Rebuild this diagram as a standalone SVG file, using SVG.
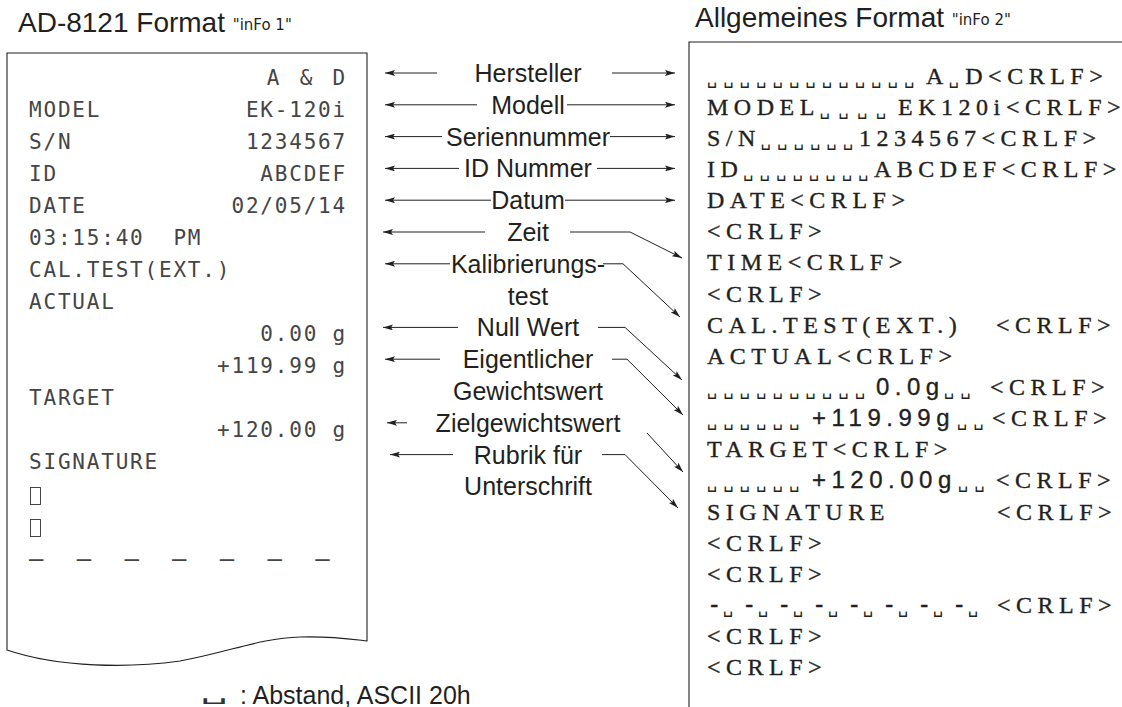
<svg xmlns="http://www.w3.org/2000/svg" width="1122" height="707" viewBox="0 0 1122 707">
<defs>
<style>
.ttl{font-family:"Liberation Sans",Arial,sans-serif;font-size:28px;fill:#231f20}
.seg{font-family:"DejaVu Sans",sans-serif;font-size:15px;fill:#231f20}
.lbl{font-family:"Liberation Sans",Arial,sans-serif;font-size:25px;fill:#231f20;text-anchor:middle}
.dm{font-family:"DejaVu Sans Mono",monospace;font-size:21px;letter-spacing:1.8px;fill:#454545;white-space:pre}
.dme{text-anchor:end}
.r{font-family:"Liberation Serif","Times New Roman",serif;font-size:24px;letter-spacing:5.5px;fill:#231f20;stroke:#231f20;stroke-width:0.35px}
.sans{font-family:"Liberation Sans",Arial,sans-serif}
.sp{font-family:"DejaVu Sans Mono",monospace;font-size:17px;letter-spacing:6.2px;stroke-width:0}
.dh{font-family:"DejaVu Sans Mono",monospace;font-size:24px;letter-spacing:0}
.leg{font-family:"Liberation Sans",Arial,sans-serif;font-size:25px;fill:#231f20}
.legm{font-family:"DejaVu Sans",sans-serif;font-size:18px;fill:#333}
.ln{fill:none;stroke:#231f20;stroke-width:1.1}
.cn{fill:none;stroke:#231f20;stroke-width:1;marker-end:url(#ah)}
</style>
<marker id="ah" viewBox="0 0 10 6" refX="10" refY="3" markerWidth="10" markerHeight="6" markerUnits="userSpaceOnUse" orient="auto">
<path d="M0,0 L10,3 L0,6 L2,3 z" fill="#231f20"/>
</marker>
</defs>

<g id="title-left">
<text class="ttl" x="18" y="32">AD-8121 Format <tspan class="seg" dy="-2">"inFo 1"</tspan></text>
</g>
<g id="title-right">
<text class="ttl" x="695" y="27">Allgemeines Format <tspan class="seg" dy="-2">"inFo 2"</tspan></text>
</g>

<g id="printout-left">
<path class="ln" d="M7,53 H367 V641 C350,639 330,636 300,637 C260,638 230,652 180,661 C130,668 60,668 7,650 Z"/>
<text class="dm dme" x="347" y="85" style="word-spacing:4px">A &amp; D</text>
<text class="dm" x="29" y="117">MODEL</text><text class="dm dme" x="347" y="117">EK-120i</text>
<text class="dm" x="29" y="149">S/N</text><text class="dm dme" x="347" y="149">1234567</text>
<text class="dm" x="29" y="181">ID</text><text class="dm dme" x="347" y="181">ABCDEF</text>
<text class="dm" x="29" y="213">DATE</text><text class="dm dme" x="347" y="213">02/05/14</text>
<text class="dm" x="29" y="245">03:15:40  PM</text>
<text class="dm" x="29" y="277">CAL.TEST(EXT.)</text>
<text class="dm" x="29" y="309">ACTUAL</text>
<text class="dm dme" x="347" y="341">0.00 g</text>
<text class="dm dme" x="347" y="373">+119.99 g</text>
<text class="dm" x="29" y="405">TARGET</text>
<text class="dm dme" x="347" y="437">+120.00 g</text>
<text class="dm" x="29" y="469">SIGNATURE</text>
<rect x="30.5" y="487.5" width="10" height="17" fill="none" stroke="#454545" stroke-width="1"/>
<rect x="30.5" y="519.5" width="10" height="17" fill="none" stroke="#454545" stroke-width="1"/>
<text class="dm" x="29" y="567" style="font-size:24px;letter-spacing:9.4px">– – – – – – –</text>
</g>

<g id="labels">
<text class="lbl" x="528" y="82">Hersteller</text>
<text class="lbl" x="528" y="113.8">Modell</text>
<text class="lbl" x="528" y="145.6">Seriennummer</text>
<text class="lbl" x="528" y="177.4">ID Nummer</text>
<text class="lbl" x="528" y="209.2">Datum</text>
<text class="lbl" x="528" y="241">Zeit</text>
<text class="lbl" x="528" y="272.8">Kalibrierungs-</text>
<text class="lbl" x="528" y="304.6">test</text>
<text class="lbl" x="528" y="336.4">Null Wert</text>
<text class="lbl" x="528" y="368.2">Eigentlicher</text>
<text class="lbl" x="528" y="400">Gewichtswert</text>
<text class="lbl" x="528" y="431.8">Zielgewichtswert</text>
<text class="lbl" x="528" y="463.6">Rubrik für</text>
<text class="lbl" x="528" y="495.4">Unterschrift</text>
</g>

<g id="connectors">
<path class="cn" d="M437,73 H385"/>
<path class="cn" d="M612,73 H675"/>
<path class="cn" d="M477,104.8 H385"/>
<path class="cn" d="M567,104.8 H675"/>
<path class="cn" d="M442,136.6 H385"/>
<path class="cn" d="M610,136.6 H675"/>
<path class="cn" d="M459,168.4 H385"/>
<path class="cn" d="M597,168.4 H675"/>
<path class="cn" d="M491,200.2 H385"/>
<path class="cn" d="M565,200.2 H675"/>
<path class="cn" d="M485,232 H383"/>
<path class="cn" d="M570,232 H630 L682,258"/>
<path class="cn" d="M450,263.8 H385"/>
<path class="cn" d="M603,263.8 H623 L680,317"/>
<path class="cn" d="M458,327.4 H383"/>
<path class="cn" d="M598,327.4 H625 L682,380"/>
<path class="cn" d="M440,359.2 H385"/>
<path class="cn" d="M612,359.2 H627 L683,415"/>
<path class="cn" d="M407,422.8 H387"/>
<path class="cn" d="M647,433 L683,472"/>
<path class="cn" d="M453,454.6 H390"/>
<path class="cn" d="M602,454.6 H625 L678,508"/>
</g>

<g id="format-right">
<path class="ln" d="M689,707 V42 H1122"/>
<text class="r" y="83.5"><tspan x="707" class="sp">␣␣␣␣␣␣␣␣␣␣␣␣␣</tspan><tspan x="926">A</tspan><tspan class="sp">␣</tspan><tspan>D&lt;CRLF&gt;</tspan></text>
<text class="r" y="114.65"><tspan x="707">MODEL</tspan><tspan class="sp" style="letter-spacing:8.5px">␣␣␣␣</tspan><tspan x="898">EK120i</tspan><tspan x="1006">&lt;CRLF&gt;</tspan></text>
<text class="r" y="145.8"><tspan x="707">S/N</tspan><tspan class="sp">␣␣␣␣␣␣</tspan><tspan x="859">1234567&lt;CRLF&gt;</tspan></text>
<text class="r" y="176.95"><tspan x="707">ID</tspan><tspan class="sp">␣␣␣␣␣␣␣␣</tspan><tspan x="874">ABCDEF&lt;CRLF&gt;</tspan></text>
<text class="r" x="707" y="208.1">DATE&lt;CRLF&gt;</text>
<text class="r" x="707" y="239.25">&lt;CRLF&gt;</text>
<text class="r" x="707" y="270.4">TIME&lt;CRLF&gt;</text>
<text class="r" x="707" y="301.55">&lt;CRLF&gt;</text>
<text class="r" y="332.7"><tspan x="707">CAL.TEST(EXT.)</tspan><tspan x="996">&lt;CRLF&gt;</tspan></text>
<text class="r" x="707" y="363.85">ACTUAL&lt;CRLF&gt;</text>
<text class="r" y="395"><tspan x="707" class="sp">␣␣␣␣␣␣␣␣␣␣</tspan><tspan x="876" class="sans">0.0g</tspan><tspan x="944" class="sp">␣␣</tspan><tspan x="990">&lt;CRLF&gt;</tspan></text>
<text class="r" y="426.15"><tspan x="707" class="sp">␣␣␣␣␣␣</tspan><tspan x="812" class="sans">+119.99g</tspan><tspan x="957" class="sp">␣␣</tspan><tspan x="992">&lt;CRLF&gt;</tspan></text>
<text class="r" x="707" y="457.3">TARGET&lt;CRLF&gt;</text>
<text class="r" y="488.45"><tspan x="707" class="sp">␣␣␣␣␣␣</tspan><tspan x="812" class="sans">+120.00g</tspan><tspan x="958" class="sp">␣␣</tspan><tspan x="996">&lt;CRLF&gt;</tspan></text>
<text class="r" y="519.6"><tspan x="707">SIGNATURE</tspan><tspan x="997">&lt;CRLF&gt;</tspan></text>
<text class="r" x="707" y="550.75">&lt;CRLF&gt;</text>
<text class="r" x="707" y="581.9">&lt;CRLF&gt;</text>
<text class="r" y="613.05"><tspan class="dh" x="707">-</tspan><tspan class="sp" x="723">␣</tspan><tspan class="dh" x="742">-</tspan><tspan class="sp" x="758">␣</tspan><tspan class="dh" x="777">-</tspan><tspan class="sp" x="793">␣</tspan><tspan class="dh" x="812">-</tspan><tspan class="sp" x="828">␣</tspan><tspan class="dh" x="847">-</tspan><tspan class="sp" x="863">␣</tspan><tspan class="dh" x="882">-</tspan><tspan class="sp" x="898">␣</tspan><tspan class="dh" x="917">-</tspan><tspan class="sp" x="933">␣</tspan><tspan class="dh" x="952">-</tspan><tspan class="sp" x="968">␣</tspan><tspan x="997">&lt;CRLF&gt;</tspan></text>
<text class="r" x="707" y="644.2">&lt;CRLF&gt;</text>
<text class="r" x="707" y="675.35">&lt;CRLF&gt;</text>
</g>

<g id="legend">
<text class="legm" transform="translate(200,700) scale(2.4,1)" x="0" y="0">␣</text>
<text class="leg" x="240" y="704">: Abstand, ASCII 20h</text>
</g>
</svg>
